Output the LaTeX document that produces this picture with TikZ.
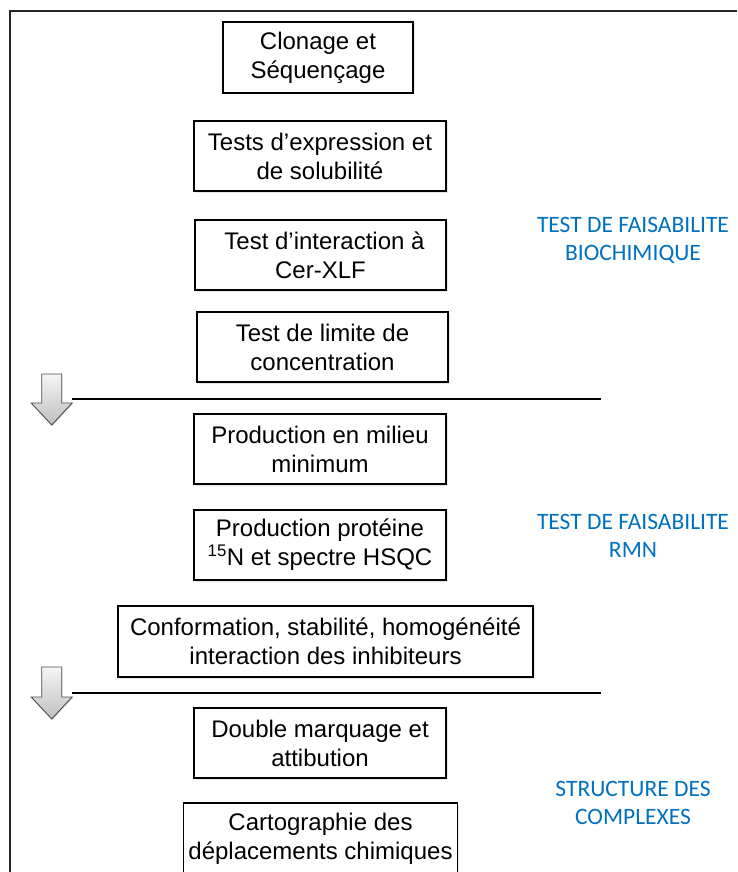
\documentclass[tikz,border=0pt]{standalone}
\usepackage{fontspec}
\setmainfont{Liberation Sans}
\newfontfamily\calfont{Carlito}
\usetikzlibrary{shadows}
\definecolor{offblue}{RGB}{0,112,192}
\begin{document}
\begin{tikzpicture}[x=1pt,y=-1pt,
  stepbox/.style={draw=black,line width=1.3pt,fill=white,align=center,inner sep=0pt,
    font=\fontsize{24}{29}\selectfont,
    drop shadow={opacity=0.2,shadow xshift=1.5pt,shadow yshift=-1.5pt}},
  phase/.style={text=offblue,align=center,font=\calfont\fontsize{23.5}{28}\selectfont},
  bigarrow/.style={draw=black!70,line width=0.9pt,top color=gray!8,bottom color=gray!50,
    drop shadow={opacity=0.2,shadow xshift=1pt,shadow yshift=-1pt}},
  sepline/.style={draw=black,line width=1.1pt}]
\useasboundingbox (0,0) rectangle (737,872);
% frame
\draw[line width=1.2pt,black!85] (737,11) -- (10,11) -- (10,872);
% boxes
\node[stepbox,minimum width=190,minimum height=71] (b1) at (318,57.5) {Clonage et\\Séquençage};
\node[stepbox,minimum width=252,minimum height=70] (b2) at (320,156) {Tests d’expression et\\de solubilité};
\node[stepbox,minimum width=251,minimum height=70] (b3) at (320.5,255) {\hspace*{8pt}Test d’interaction à\\Cer-XLF};
\node[stepbox,minimum width=251,minimum height=70] (b4) at (322.5,347) {Test de limite de\\concentration};
\node[stepbox,minimum width=252,minimum height=70] (b5) at (320,449) {Production en milieu\\minimum};
\node[stepbox,minimum width=252,minimum height=70] (b6) at (320,545) {Production protéine\\\textsuperscript{15}N et spectre HSQC};
\node[stepbox,minimum width=415,minimum height=71] (b7) at (325.5,641.5) {Conformation, stabilité, homogénéité\\interaction des inhibiteurs};
\node[stepbox,minimum width=252,minimum height=70] (b8) at (320,743) {Double marquage et\\attibution};
\node[stepbox,minimum width=274,minimum height=72] (b9) at (320.5,839) {Cartographie des\\déplacements chimiques};
% phase labels
\node[phase] (p1) at (633,240) {TEST DE FAISABILITE\\BIOCHIMIQUE};
\node[phase] (p2) at (633,536) {TEST DE FAISABILITE\\RMN};
\node[phase] (p3) at (633,803) {STRUCTURE DES\\COMPLEXES};
% separators
\coordinate (l1a) at (72,399); \coordinate (l1b) at (601,399);
\coordinate (l2a) at (72,693); \coordinate (l2b) at (601,693);
\draw[sepline] (l1a) -- (l1b);
\draw[sepline] (l2a) -- (l2b);
% block arrows
\coordinate (a1) at (51.7,374);
\coordinate (a2) at (51.7,667);
\foreach \c/\h in {a1/29,a2/30}{
  \path[bigarrow] (\c) ++(-10,0) -- ++(20,0) -- ++(0,\h) -- ++(10.5,0) -- ++(-20.5,22) -- ++(-20.5,-22) -- ++(10.5,0) -- cycle;
}
\end{tikzpicture}
\end{document}
